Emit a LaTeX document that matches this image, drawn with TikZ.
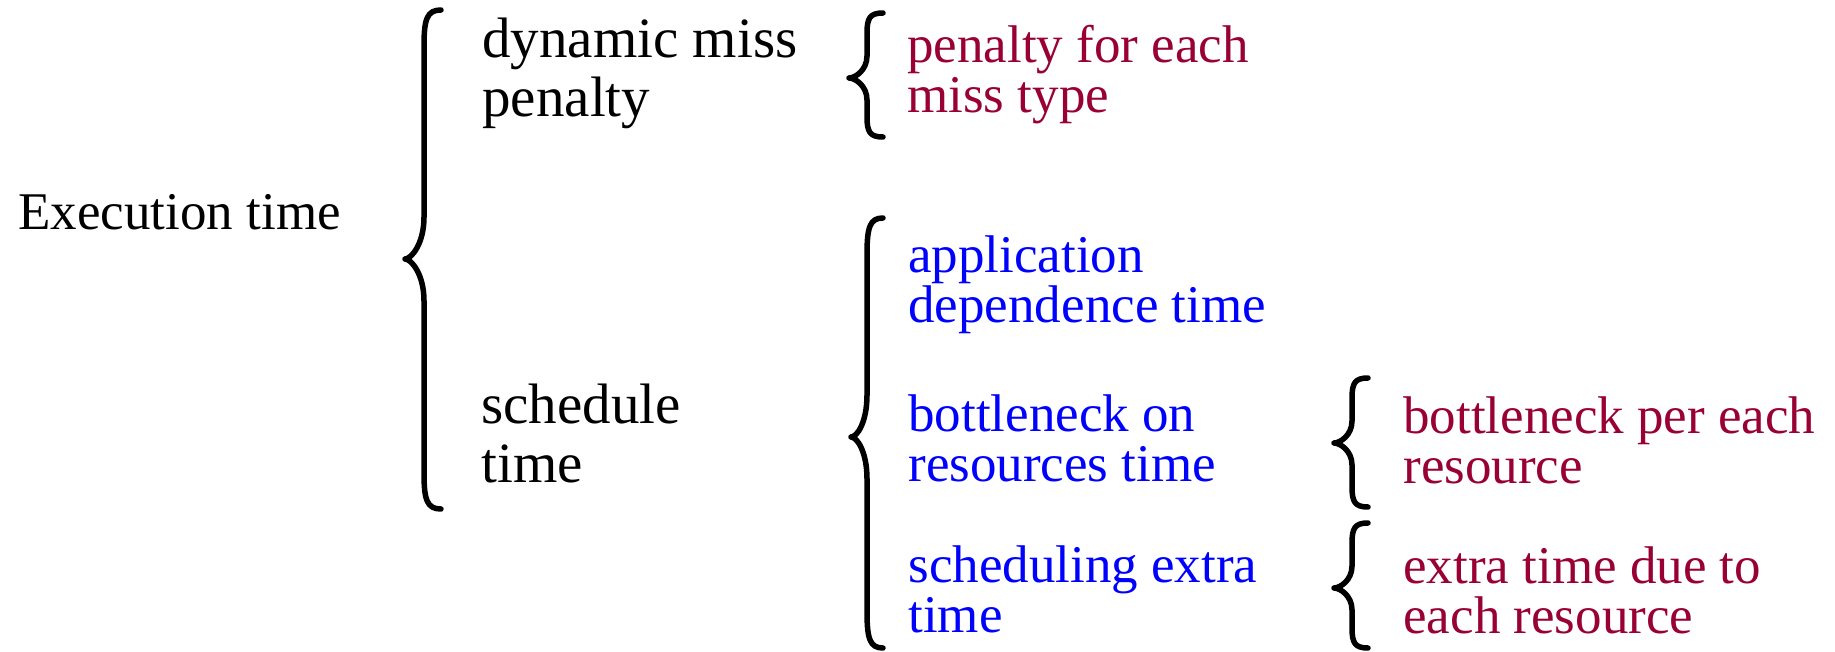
\documentclass[tikz,border=0pt]{standalone}
\usepackage{fontspec}
\setmainfont{Liberation Serif}
\definecolor{missred}{RGB}{153,0,51}
\definecolor{itemblue}{RGB}{0,0,255}
\tikzset{
  lvlA/.style={font=\fontsize{28.5}{29.5}\selectfont, align=left, anchor=base west, inner sep=0pt},
  lvlB/.style={font=\fontsize{26.5}{25}\selectfont, align=left, anchor=base west, inner sep=0pt},
  curly/.style={line width=2.75pt, line cap=round, line join=round},
}
% #1 xtip, #2 xbar, #3 xend, #4 ytop, #5 ytip, #6 ybot, #7 end radius, #8 tip radius
\newcommand\drawcurly[8]{%
  \draw[curly] (#3,#4) .. controls (#2+3,#4) and (#2,#4+0.25*#7) .. (#2,#4+#7)
    -- (#2,#5-#8) .. controls (#2,#5-0.35*#8) and (#1+6,#5) .. (#1,#5)
    .. controls (#1+6,#5) and (#2,#5+0.35*#8) .. (#2,#5+#8)
    -- (#2,#6-#7) .. controls (#2,#6-0.25*#7) and (#2+3,#6) .. (#3,#6);}
\begin{document}
\begin{tikzpicture}[x=0.5pt,y=-0.5pt]
\useasboundingbox (0,0) rectangle (1835,652);

% anchors are at the baseline of the last line
\node[lvlA, font=\fontsize{26.5}{29.5}\selectfont] (exec) at (18,229) {Execution time};
\node[lvlA] (dyn) at (482,117) {dynamic miss\\penalty};
\node[lvlA] (sched) at (481,482) {schedule\\time};

\node[lvlB, text=missred] (pen) at (907,113) {penalty for each\\miss type};
\node[lvlB, text=itemblue] (app) at (908,322) {application\\dependence time};
\node[lvlB, text=itemblue] (bot) at (908,481) {bottleneck on\\resources time};
\node[lvlB, text=itemblue] (sx) at (908,632) {scheduling extra\\time};
\node[lvlB, text=missred] (bpe) at (1403,483) {bottleneck per each\\resource};
\node[lvlB, text=missred] (etd) at (1403,633) {extra time due to\\each resource};

\drawcurly{405}{424}{441}{10}{259}{509}{36}{42}
\drawcurly{849}{867}{883}{13}{78}{137}{20}{22}
\drawcurly{851}{867}{883}{218}{437}{648}{36}{42}
\drawcurly{1334}{1352}{1368}{378}{443}{507}{20}{22}
\drawcurly{1334}{1352}{1368}{523}{588}{648}{20}{22}
\end{tikzpicture}
\end{document}
